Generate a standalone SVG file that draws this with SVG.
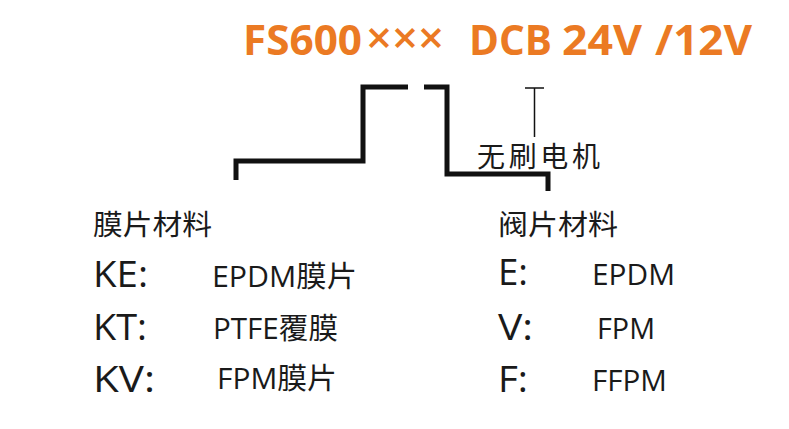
<svg xmlns="http://www.w3.org/2000/svg" width="789" height="429" viewBox="0 0 789 429">
<style>
.title{font-family:"Open Sans","Liberation Sans",sans-serif;font-weight:bold;font-size:42px;fill:#EB7A23}
.cjk{font-family:"Noto Sans CJK SC",sans-serif;fill:#1a1a1a}
.code{font-family:"Open Sans","Noto Sans CJK SC",sans-serif;font-size:37px;fill:#1a1a1a}
.val{font-family:"Open Sans","Noto Sans CJK SC",sans-serif;font-size:29px;fill:#1a1a1a}
.thick{fill:none;stroke:#111;stroke-width:5;stroke-linejoin:miter;stroke-linecap:butt}
.thin{fill:none;stroke:#111;stroke-width:1.5}
</style>
<rect width="789" height="429" fill="#fff"/>
<g id="title">
<text class="title" x="243" y="55" textLength="119" lengthAdjust="spacingAndGlyphs">FS600</text>
<text class="title" x="366" y="54" textLength="78" lengthAdjust="spacingAndGlyphs" style="font-weight:600;font-size:46px">×××</text>
<text class="title" x="469" y="55" textLength="83" lengthAdjust="spacingAndGlyphs">DCB</text>
<text class="title" x="562" y="55" textLength="80" lengthAdjust="spacingAndGlyphs">24V</text>
<text class="title" x="655" y="55" textLength="97" lengthAdjust="spacingAndGlyphs">/12V</text>
</g>
<g id="connectors">
<path class="thick" d="M236,180 V161 H363 V87 H408"/>
<path class="thick" d="M424,87 H447 V174 H548 V191"/>
<path class="thin" d="M525,88 H544 M534.5,88 V137"/>
</g>
<g id="motor">
<text class="cjk" x="477" y="167" font-size="28" textLength="123" lengthAdjust="spacing">无刷电机</text>
</g>
<g id="membrane">
<text class="cjk" x="93" y="235" font-size="28" textLength="119" lengthAdjust="spacingAndGlyphs">膜片材料</text>
<text class="code" x="93" y="287" textLength="55" lengthAdjust="spacingAndGlyphs">KE:</text>
<text class="val" x="212" y="287" textLength="145" lengthAdjust="spacingAndGlyphs">EPDM膜片</text>
<text class="code" x="93" y="340" textLength="54" lengthAdjust="spacingAndGlyphs">KT:</text>
<text class="val" x="213" y="339" textLength="125" lengthAdjust="spacingAndGlyphs">PTFE覆膜</text>
<text class="code" x="93" y="392" textLength="62" lengthAdjust="spacingAndGlyphs">KV:</text>
<text class="val" x="217" y="389" textLength="120" lengthAdjust="spacingAndGlyphs">FPM膜片</text>
</g>
<g id="valve">
<text class="cjk" x="498" y="235" font-size="28" textLength="120" lengthAdjust="spacingAndGlyphs">阀片材料</text>
<text class="code" x="498" y="285" textLength="30" lengthAdjust="spacingAndGlyphs">E:</text>
<text class="val" x="592" y="285" textLength="83" lengthAdjust="spacingAndGlyphs">EPDM</text>
<text class="code" x="498" y="340" textLength="35" lengthAdjust="spacingAndGlyphs">V:</text>
<text class="val" x="597" y="339" textLength="58" lengthAdjust="spacingAndGlyphs">FPM</text>
<text class="code" x="498" y="392" textLength="30" lengthAdjust="spacingAndGlyphs">F:</text>
<text class="val" x="592" y="391" textLength="75" lengthAdjust="spacingAndGlyphs">FFPM</text>
</g>
</svg>
